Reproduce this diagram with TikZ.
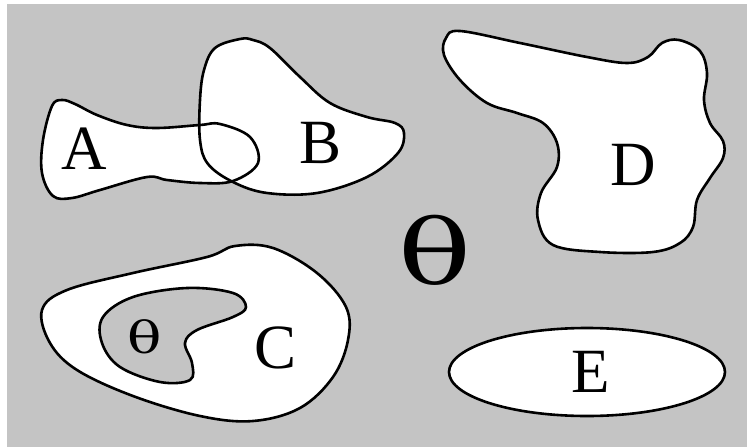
\documentclass[tikz,border=0pt]{standalone}
\usepackage{fontspec}
\setmainfont{Liberation Serif}
\newfontfamily\thetafont{DejaVu Serif}
\usetikzlibrary{positioning}
\definecolor{bggray}{RGB}{196,196,196}

\begin{document}
\begin{tikzpicture}[
      x=1pt,y=-1pt,
      every node/.style={inner sep=0pt},
      region/.style={fill=white},
      rim/.style={draw=black,line width=2.6pt},
      lab/.style={font=\fontsize{63}{70}\selectfont}
    ]
    \useasboundingbox (0,0) rectangle (747,447);
    % universe
    \fill[bggray] (7,4) rectangle (747,447);
    % sets A and B (fill first, outlines on top)
    \def\setA{(52,106) (62,100) (75,104) (97,115) (127,125) (157,128) (200,125) (220,124) (250,137) (258,163) (233,181) (200,183) (167,180) (147,177) (100,190) (72,198) (53,196) (42,173) (43,140)}
    \def\setB{(240,39) (215,48) (204,70) (200,100) (200,140) (208,164) (233,182) (267,193) (317,193) (367,177) (398,153) (404,133) (395,123) (367,117) (330,103) (300,77) (270,48) (253,40)}
    \fill[region] plot[smooth cycle,tension=0.6] coordinates {\setA};
    \fill[region] plot[smooth cycle,tension=0.6] coordinates {\setB};
    \draw[rim] plot[smooth cycle,tension=0.6] coordinates {\setA};
    \draw[rim] plot[smooth cycle,tension=0.6] coordinates {\setB};
    \node[lab] (A) at (84,149) {A};
    \node[lab] (B) at (321,143) {B};
    % set D
    \filldraw[region,rim] plot[smooth cycle,tension=0.6] coordinates {(460,31) (520,43) (587,57) (627,63) (648,57) (662,43) (679,40) (700,51) (707,73) (704,100) (710,123) (723,141) (723,158) (710,178) (697,200) (693,227) (680,243) (653,252) (600,252) (553,245) (538,220) (541,193) (557,167) (557,143) (543,123) (517,113) (487,103) (460,80) (444,55) (446,38)};
    \node[lab] (D) at (633,165) {D};
    % set C with hole
    \filldraw[region,rim] plot[smooth cycle,tension=0.6] coordinates {(42,310) (67,290) (133,273) (207,257) (235,246) (273,248) (317,273) (346,307) (348,340) (333,377) (300,408) (253,421) (200,416) (133,396) (77,370) (50,343)};
    \filldraw[fill=bggray,rim] plot[smooth cycle,tension=0.6] coordinates {(103,317) (133,297) (187,288) (233,293) (246,307) (233,317) (197,330) (185,343) (192,363) (190,380) (160,382) (120,367) (102,343)};
    \node[font=\fontsize{44}{48}\thetafont] (t) at (145,337) {\scalebox{1.3}[1]{θ}};
    \node[lab] (C) at (276,348) {C};
    % set E
    \filldraw[region,rim] (587,372) ellipse[x radius=138,y radius=44];
    \node[lab] (E) at (591,372) {E};
    % complement symbol
    \node[font=\fontsize{90}{96}\thetafont] (T) at (435,250) {\scalebox{1.35}[1]{θ}};
\end{tikzpicture}
\end{document}
